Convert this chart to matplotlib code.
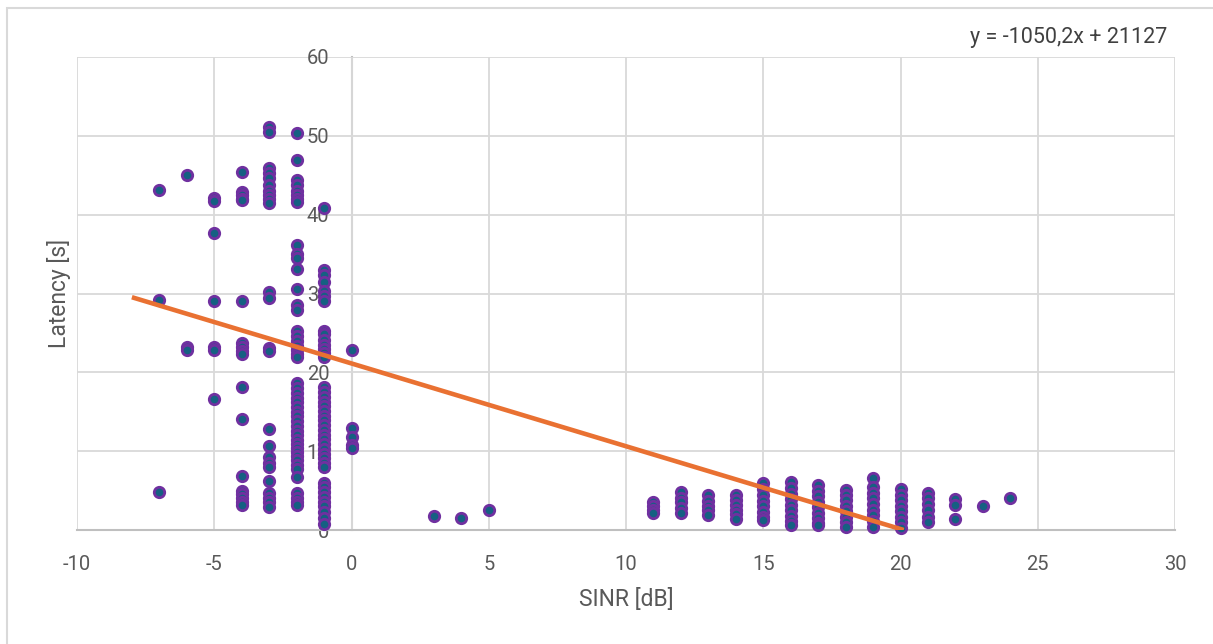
import numpy as np
import matplotlib.pyplot as plt
from matplotlib.patches import Rectangle

plt.rcParams['font.family'] = ['Roboto', 'DejaVu Sans']
plt.rcParams['axes.unicode_minus'] = False

# SINR levels [dB] and latencies [s] measured at each level
sinr_levels = [-7, -6, -5, -4, -3, -2, -1, 0, 3, 4, 5,
               11, 12, 13, 14, 15, 16, 17, 18, 19, 20, 21, 22, 23, 24]
latency_at_level = [
    [43.1, 29.2, 4.8],
    [45.0, 23.2, 22.8],
    [42.1, 41.7, 37.7, 29.1, 23.2, 22.8, 16.6],
    [45.4, 42.9, 42.5, 42.0, 41.8, 29.1, 23.7, 23.2, 22.7, 22.3, 18.1, 14.1,
     6.8, 5.0, 4.6, 4.1, 3.6, 3.2],
    [51.1, 50.5, 45.9, 45.3, 44.6, 43.8, 43.0, 42.5, 42.0, 41.5, 30.2, 29.4,
     23.1, 22.7, 12.8, 10.6, 9.3, 8.5, 8.0, 6.2, 4.7, 4.0, 3.5, 2.9],
    [50.4, 46.9, 44.4, 43.8, 43.0, 42.5, 42.0, 41.6, 36.1, 35.0, 34.5, 33.1,
     30.6, 28.6, 27.9, 25.2, 24.6, 24.0, 23.4, 22.8, 22.3, 22.0,
     18.6, 18.0, 17.4, 16.8, 16.2, 15.6, 15.0, 14.4, 13.8, 13.2, 12.6, 12.0,
     11.4, 10.9, 10.4, 9.9, 9.4, 8.9, 8.3, 7.7, 6.7, 4.7, 4.0, 3.6, 3.2],
    [40.9, 33.0, 32.4, 31.5, 30.3, 29.7, 29.1, 25.3, 24.8, 24.1, 23.5, 23.0,
     22.5, 21.9, 18.2, 17.5, 16.9, 16.3, 15.7, 15.1, 14.5, 13.9, 13.3, 12.7,
     12.1, 11.5, 10.9, 10.3, 9.7, 9.1, 8.5, 8.0, 6.0, 5.4, 4.8, 4.2, 3.6,
     3.0, 2.3, 1.5, 0.8],
    [22.8, 13.0, 11.8, 10.8, 10.4],
    [1.8],
    [1.5],
    [2.5],
    [3.6, 3.0, 2.5, 2.2],
    [4.8, 4.0, 3.5, 2.8, 2.2],
    [4.4, 3.7, 3.0, 2.5, 1.9],
    [4.4, 3.8, 3.2, 2.6, 2.0, 1.4],
    [5.9, 5.2, 4.4, 3.7, 3.0, 2.3, 1.6, 1.3],
    [6.1, 5.3, 4.6, 3.9, 3.2, 2.5, 1.8, 1.2, 0.6],
    [5.7, 5.0, 4.3, 3.6, 2.9, 2.2, 1.5, 0.9, 0.6],
    [5.1, 4.5, 3.8, 3.1, 2.4, 1.7, 1.0, 0.4],
    [6.6, 5.4, 4.7, 4.0, 3.3, 2.6, 1.9, 1.2, 0.4],
    [5.2, 4.5, 3.8, 3.1, 2.4, 1.7, 1.0, 0.3],
    [4.7, 4.0, 3.3, 2.5, 1.7, 1.0],
    [3.9, 3.2, 1.4],
    [3.0],
    [4.1],
]

# Linear trendline as reported by the chart (latency in ms, shown in s)
trend_slope = -1.0502
trend_intercept = 21.127
trend_label = 'y = -1050,2x + 21127'
trend_x_start = -8

sinr = np.concatenate([[s] * len(v) for s, v in zip(sinr_levels, latency_at_level)])
latency = np.concatenate(latency_at_level)

fig = plt.figure(figsize=(12.13, 6.44), dpi=100)
ax = fig.add_axes([77 / 1213, 1 - 530 / 644, 1098 / 1213, 473 / 644])

grid_c = '#D9D9D9'
axis_c = '#BFBFBF'
text_c = '#595959'

ax.plot(sinr, latency, 'o', ms=7.5, mfc='#156082', mec='#7030A0', mew=2,
        zorder=4, clip_on=False)

trend_x = np.array([trend_x_start, -trend_intercept / trend_slope])
ax.plot(trend_x, trend_slope * trend_x + trend_intercept,
        color='#E97132', lw=3.3, solid_capstyle='butt', zorder=5)

ax.set_xlim(-10, 30)
ax.set_ylim(0, 60)
ax.set_xticks(np.arange(-10, 31, 5))
ax.set_yticks(np.arange(0, 61, 10))
ax.grid(True, color=grid_c, lw=1.3, zorder=0)

for side in ['top', 'right']:
    ax.spines[side].set_visible(False)
ax.spines['bottom'].set_color(axis_c)
ax.spines['bottom'].set_linewidth(1.5)
ax.spines['left'].set_position(('data', 0))
ax.spines['left'].set_color(axis_c)
ax.spines['left'].set_linewidth(1.5)
ax.spines['left'].set_zorder(1)

ax.tick_params(axis='both', length=0, labelsize=14.5, labelcolor=text_c)
ax.tick_params(axis='x', pad=18)
ax.tick_params(axis='y', pad=16)

fig.text(626 / 1213, 1 - 600 / 644, 'SINR [dB]', fontsize=16.5, color=text_c,
         ha='center', va='center')
fig.text(59 / 1213, 1 - 293 / 644, 'Latency [s]', rotation=90, fontsize=16.5,
         color=text_c, ha='center', va='center')

fig.text(1167 / 1213, 1 - 37 / 644, trend_label, fontsize=15.5, color='#404040',
         ha='right', va='center')

fig.patches.append(Rectangle((7 / 1213, -0.1), 1.2, 1.1 - 8 / 644,
                             transform=fig.transFigure, fill=False,
                             ec=grid_c, lw=1.5))

plt.savefig('out.png', dpi=100)
